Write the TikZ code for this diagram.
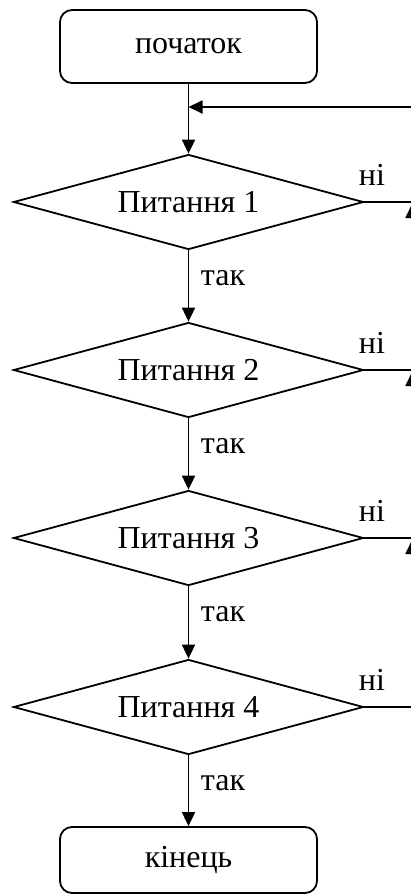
\documentclass[tikz,border=0pt]{standalone}
\usepackage{fontspec}
\setmainfont{Liberation Serif}
\usetikzlibrary{shapes.geometric,arrows.meta}
\begin{document}
\begin{tikzpicture}[x=1pt,y=-1pt,
  every node/.style={font=\fontsize{32}{37}\selectfont},
  termbox/.style={draw,line width=1.8pt,rounded corners=12pt,minimum width=257pt,minimum height=73pt,inner sep=0pt},
  decbox/.style={draw,line width=1.8pt,diamond,shape aspect=3.68,minimum width=350pt,minimum height=95pt,inner sep=0pt},
  conn/.style={line width=1.8pt},
  arr/.style={conn,-{Triangle[length=14pt,width=13pt]}},
  lbl/.style={inner sep=0pt}]
\useasboundingbox (0,0) rectangle (411,895);
\node[termbox] (start) at (188.5,46.5) {початок};
\node[decbox] (d1) at (188.5,202) {Питання 1};
\node[decbox] (d2) at (188.5,370) {Питання 2};
\node[decbox] (d3) at (188.5,538) {Питання 3};
\node[decbox] (d4) at (188.5,707) {Питання 4};
\node[termbox,minimum height=66pt] (end) at (188.5,860) {кінець};
\coordinate (join) at (188.5,107);
\coordinate (r1) at (412,202);
\coordinate (r2) at (412,370);
\coordinate (r3) at (412,538);
\coordinate (r4) at (412,707);
\draw[arr] (start.south) -- (d1.north);
\draw[arr] (d1.south) -- (d2.north);
\draw[arr] (d2.south) -- (d3.north);
\draw[arr] (d3.south) -- (d4.north);
\draw[arr] (d4.south) -- (end.north);
\draw[conn] (d1.east) -- (r1);
\draw[conn] (d2.east) -- (r2);
\draw[conn] (d3.east) -- (r3);
\draw[conn] (d4.east) -- (r4);
\draw[arr,shorten >=2pt] (r4) -- (r3);
\draw[arr,shorten >=2pt] (r3) -- (r2);
\draw[arr,shorten >=2pt] (r2) -- (r1);
\draw[arr] (r1) |- (join);
\foreach \i/\y in {1/202,2/370,3/538,4/707}{
  \node[lbl] (yes\i) at (223,\y+76) {так};
  \node[lbl] (no\i) at (372,\y-27) {ні};
}
\end{tikzpicture}
\end{document}
